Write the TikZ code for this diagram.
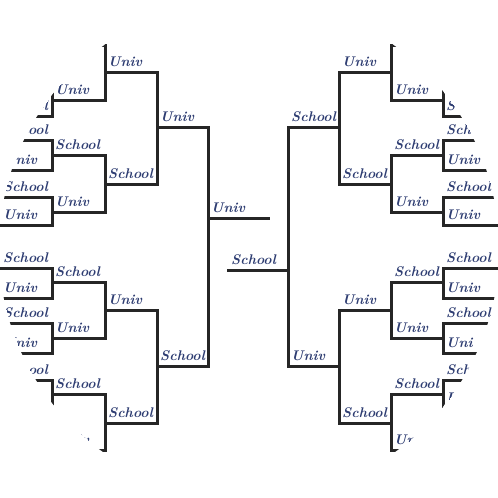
\documentclass[tikz,border=0pt]{standalone}
\definecolor{ink}{HTML}{2E3D72}
\begin{document}
\begin{tikzpicture}[x=1pt,y=-1pt,
  ln/.style={line width=3pt,color=black!85,line cap=rect},
  lb/.style={font=\fontsize{14}{14}\selectfont\itshape\bfseries,text=ink,anchor=south west,inner sep=0pt}]
\useasboundingbox (0,0) rectangle (498,498);
\fill[white] (0,0) rectangle (498,498);
\clip (249,249) circle (250);
% horizontal segments: x1/x2/y/label
\foreach \a/\b/\y/\t in {
 0/52/84/Univ, 0/52/116/School, 0/52/140/School, 0/52/170/Univ, 0/52/197/School, 0/52/225/Univ,
 0/52/268/School, 0/52/298/Univ, 0/52/323/School, 0/52/353/Univ, 0/52/380/School, 0/52/408/Univ,
 52/105/45/School, 52/105/100/Univ, 52/105/155/School, 52/105/212/Univ, 52/105/282/School, 52/105/338/Univ, 52/105/394/School, 52/105/450/Univ,
 105/157/72/Univ, 105/157/184/School, 105/157/310/Univ, 105/157/423/School,
 157/208/127/Univ, 157/208/366/School, 208/268/218/Univ,
 443/498/84/Univ, 443/498/116/School, 443/498/140/School, 443/498/170/Univ, 443/498/197/School, 443/498/225/Univ,
 443/498/268/School, 443/498/298/Univ, 443/498/323/School, 443/498/353/Uni, 443/498/380/School, 443/498/408/Univ,
 391/443/45/School, 391/443/100/Univ, 391/443/155/School, 391/443/212/Univ, 391/443/282/School, 391/443/338/Univ, 391/443/394/School, 391/443/450/Univ,
 339/391/72/Univ, 339/391/184/School, 339/391/310/Univ, 339/391/423/School,
 288/339/127/School, 288/339/366/Univ, 228/288/270/School}
 {\draw[ln] (\a,\y) -- (\b,\y);
  \node[lb] at (\a+3,\y-5) {\t};}
% vertical joins
\foreach \x/\p/\q in {52/84/116, 52/140/170, 52/197/225, 52/268/298, 52/323/353, 52/380/408,
 105/45/100, 105/155/212, 105/282/338, 105/394/450, 157/72/184, 157/310/423, 208/127/366,
 443/84/116, 443/140/170, 443/197/225, 443/268/298, 443/323/353, 443/380/408,
 391/45/100, 391/155/212, 391/282/338, 391/394/450, 339/72/184, 339/310/423, 288/127/366}
 {\draw[ln] (\x,\p) -- (\x,\q);}
\end{tikzpicture}
\end{document}
